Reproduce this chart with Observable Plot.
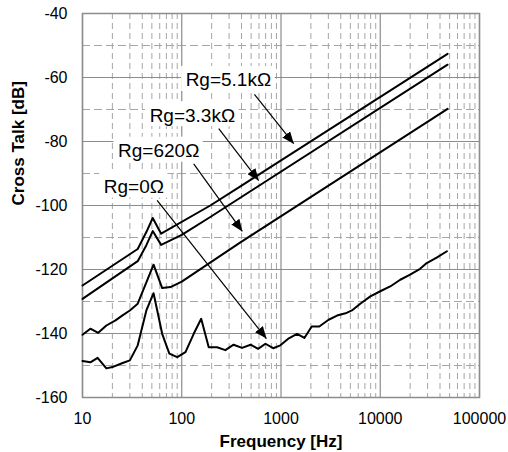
<!DOCTYPE html>
<html><head><meta charset="utf-8">
<script src="https://cdn.jsdelivr.net/npm/d3@7"></script>
<script src="https://cdn.jsdelivr.net/npm/@observablehq/plot@0.6"></script>
<style>body{margin:0;background:#fff} svg{display:block}</style>
</head><body><div id="chart"></div>
<script>
// ---- data ----
const seriesNames = ["Rg=0Ω", "Rg=620Ω", "Rg=3.3kΩ", "Rg=5.1kΩ"];

const freq0  = [10, 12, 14.2, 17.4, 20, 25, 30, 36, 44, 52, 63.5, 75, 90, 109, 132, 157, 187, 227, 275, 333, 405, 494, 588, 697, 833, 986, 1200, 1450, 1720, 2040, 2430, 3020, 3670, 4470, 5180, 6290, 7950, 10000, 12600, 15900, 20000, 25200, 29400, 37000, 47000];
const cross0 = [-148.6, -149.0, -147.6, -150.9, -150.5, -149.3, -148.4, -143.7, -132.8, -127.4, -140.1, -146.3, -147.4, -145.8, -140.1, -135.4, -144.3, -144.3, -145.2, -143.5, -144.5, -143.5, -144.8, -143.2, -144.6, -143.7, -141.5, -140.1, -141.4, -137.8, -137.8, -135.7, -134.4, -133.7, -132.8, -130.7, -128.4, -126.8, -125.3, -123.2, -121.6, -119.8, -118.0, -116.3, -114.3];

const freq620  = [10, 12, 14.4, 17.4, 21.5, 25.1, 30, 36, 44, 52, 63.5, 77, 100, 390, 47700];
const cross620 = [-140.4, -138.5, -139.8, -137.5, -135.9, -134.4, -132.8, -130.7, -124.0, -118.5, -125.8, -125.5, -123.8, -111.5, -69.8];

const freq3k3  = [10, 36, 44, 51, 62, 100, 194, 47700];
const cross3k3 = [-129.2, -117.4, -112.4, -108.0, -112.3, -109.2, -103.6, -56.0];

const freq5k1  = [10, 36, 44, 51, 62, 194, 390, 47700];
const cross5k1 = [-125.0, -113.6, -108.3, -103.9, -108.8, -100.0, -94.0, -52.6];

const xTicks = [10, 100, 1000, 10000, 100000];
const yTicks = [-160, -140, -120, -100, -80, -60, -40];
const yMinor = [-150, -130, -110, -90, -70, -50];
const xMinorSteps = [2, 3, 4, 5, 6, 7, 8, 9];

const labelText = ["Rg=5.1kΩ", "Rg=3.3kΩ", "Rg=620Ω", "Rg=0Ω"];
const labelFreq = [295, 128, 58.6, 32.9];
const labelDb   = [-60.9, -71.9, -83.0, -94.2];

const arrowFromFreq = [540, 236, 132, 56.5];
const arrowFromDb   = [-65.3, -76.0, -87.0, -98.4];
const arrowToFreq   = [1343, 596, 408, 713];
const arrowToDb     = [-80.7, -92.2, -108.1, -141.6];

// ---- build tables ----
const seriesFreq = [freq0, freq620, freq3k3, freq5k1];
const seriesCross = [cross0, cross620, cross3k3, cross5k1];
const rows = seriesNames.flatMap((name, i) =>
  seriesFreq[i].map((f, j) => ({series: name, f, db: seriesCross[i][j]})));
const xMinor = [10, 100, 1000, 10000].flatMap(d => xMinorSteps.map(s => s * d));
const labels = labelText.map((t, i) => ({t, f: labelFreq[i], db: labelDb[i]}));
const arrows = arrowFromFreq.map((f, i) => ({f1: f, d1: arrowFromDb[i], f2: arrowToFreq[i], d2: arrowToDb[i]}));

const font = "'Liberation Sans', Arial, Helvetica, sans-serif";

const plot = Plot.plot({
  width: 508,
  height: 452,
  marginLeft: 82,
  marginRight: 29,
  marginTop: 13,
  marginBottom: 55,
  style: {fontFamily: font, fontSize: "16px", color: "black", background: "white"},
  x: {type: "log", domain: [10, 100000], label: null},
  y: {domain: [-160, -40], label: null},
  marks: [
    Plot.ruleX(xMinor, {stroke: "#a6a6a6", strokeWidth: 1, strokeDasharray: "6,4"}),
    Plot.ruleY(yMinor, {stroke: "#a6a6a6", strokeWidth: 1, strokeDasharray: "8,4"}),
    Plot.ruleX(xTicks, {stroke: "#8c8c8c", strokeWidth: 1.2}),
    Plot.ruleY(yTicks, {stroke: "#8c8c8c", strokeWidth: 1.2}),
    Plot.frame({stroke: "#8c8c8c", strokeWidth: 1.5}),
    Plot.axisX(xTicks, {tickSize: 0, tickPadding: 15, fontSize: 16, tickFormat: d => String(d), label: null}),
    Plot.axisY(yTicks, {tickSize: 0, tickPadding: 15, fontSize: 16, tickFormat: d => String(d), label: null}),
    Plot.text(["Frequency [Hz]"], {frameAnchor: "bottom", dy: 44, text: d => d, fontSize: 17, fontWeight: "bold", lineAnchor: "middle"}),
    Plot.text(["Cross Talk [dB]"], {frameAnchor: "left", dx: -64, rotate: -90, text: d => d, fontSize: 17, fontWeight: "bold", lineAnchor: "middle"}),
    Plot.line(rows, {x: "f", y: "db", z: "series", stroke: "black", strokeWidth: 2, curve: "linear"}),
    Plot.link(arrows, {x1: "f1", y1: "d1", x2: "f2", y2: "d2", stroke: "black", strokeWidth: 1.2}),
    Plot.text(labels, {x: "f", y: "db", text: "t", fontSize: 19, fill: "black", textAnchor: "middle", lineAnchor: "middle"})
  ]
});

document.getElementById("chart").appendChild(plot);

// filled arrowheads on the leader lines
const svg = d3.select(plot);
const defs = svg.insert("defs", ":first-child");
defs.append("marker")
  .attr("id", "ahead").attr("viewBox", "0 0 12 10")
  .attr("refX", 12).attr("refY", 5)
  .attr("markerWidth", 12).attr("markerHeight", 10)
  .attr("markerUnits", "userSpaceOnUse")
  .attr("orient", "auto")
  .append("path").attr("d", "M0,0L12,5L0,10Z").attr("fill", "black");
svg.selectAll('g[aria-label="link"] path').attr("marker-end", "url(#ahead)");

// white boxes behind the series labels
svg.selectAll('g[aria-label="text"][font-size="19"]').each(function() {
  const g = d3.select(this);
  const boxes = d3.select(this.parentNode).insert("g", () => this);
  g.selectAll("text").each(function() {
    const b = this.getBBox();
    const m = this.getCTM ? null : null;
    const t = this.getAttribute("transform") || "";
    boxes.append("rect")
      .attr("x", b.x - 4).attr("y", b.y - 3)
      .attr("width", b.width + 8).attr("height", b.height + 4)
      .attr("transform", t)
      .attr("fill", "white");
  });
});
</script>
</body></html>
